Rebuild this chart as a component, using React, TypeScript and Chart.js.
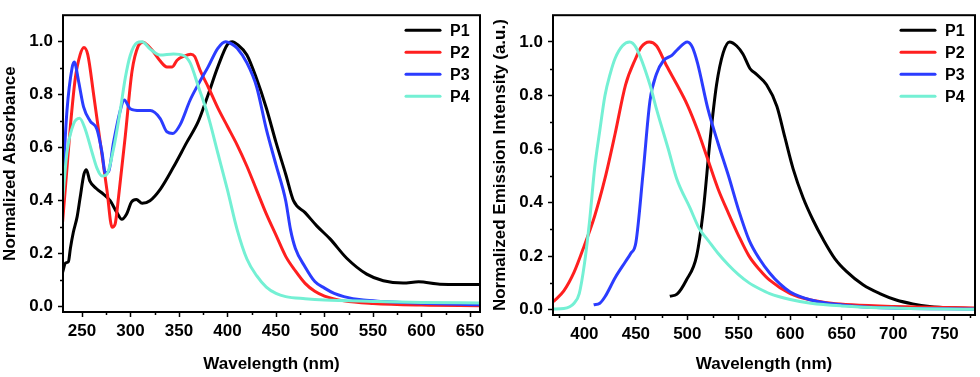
import React, { useEffect, useRef } from "react";
import { Chart, registerables } from "chart.js";

Chart.register(...registerables);

// ---------- data ----------
const seriesNames = ["P1", "P2", "P3", "P4"];
const seriesColors = ["#000000", "#ff1f1f", "#2b3cff", "#74f0d4"];

// Absorption (left panel)
const absP1X = [230, 233, 236, 238, 241, 245, 248, 252, 254.5, 258, 265, 272, 279, 286, 291, 296, 301, 306, 312, 320, 331, 344, 358, 370, 380, 390, 400, 405, 410, 420, 430, 440, 450, 460, 468, 480, 492, 505.7, 522.9, 543.5, 560.6, 581, 597, 619, 640, 660];
const absP1Y = [0.13, 0.165, 0.17, 0.22, 0.28, 0.34, 0.41, 0.5, 0.517, 0.475, 0.445, 0.425, 0.4, 0.355, 0.33, 0.35, 0.395, 0.405, 0.39, 0.4, 0.445, 0.525, 0.62, 0.7, 0.8, 0.905, 0.99, 1.0, 0.99, 0.95, 0.86, 0.75, 0.62, 0.5, 0.4, 0.355, 0.305, 0.256, 0.183, 0.123, 0.098, 0.089, 0.094, 0.085, 0.084, 0.084];

const absP2X = [230, 234, 238, 243, 248, 252, 256, 262, 268.8, 275.7, 281, 284, 287.7, 294.6, 301.5, 308, 313, 318, 324, 330, 337.5, 343, 348, 355, 362, 366, 372, 380, 390, 400, 410, 420, 430, 440, 450, 460, 470, 480, 490, 500, 520, 550, 600, 660];
const absP2Y = [0.32, 0.5, 0.68, 0.86, 0.95, 0.978, 0.95, 0.8, 0.62, 0.44, 0.3, 0.31, 0.415, 0.644, 0.887, 0.984, 0.998, 0.985, 0.96, 0.93, 0.905, 0.905, 0.93, 0.945, 0.953, 0.945, 0.89, 0.83, 0.75, 0.68, 0.61, 0.53, 0.44, 0.35, 0.27, 0.19, 0.135, 0.088, 0.058, 0.04, 0.022, 0.012, 0.006, 0.004];

const absP3X = [230, 234.5, 239.7, 242, 246.5, 251.6, 258.5, 265.4, 270.6, 274, 277.4, 282.5, 289.4, 293.5, 299.7, 310, 320.3, 330.6, 337.5, 343.7, 351.2, 361.5, 370, 380, 390, 398, 405, 410, 420, 430, 440, 450, 460, 465, 470, 480, 490, 500, 510, 520, 540, 560, 600, 660];
const absP3Y = [0.46, 0.74, 0.9, 0.923, 0.85, 0.754, 0.7, 0.67, 0.583, 0.505, 0.51, 0.62, 0.74, 0.78, 0.747, 0.74, 0.74, 0.71, 0.66, 0.654, 0.687, 0.78, 0.84, 0.905, 0.975, 1.0, 0.99, 0.975, 0.92, 0.83, 0.67, 0.535, 0.4, 0.29, 0.22, 0.15, 0.095, 0.07, 0.05, 0.038, 0.025, 0.02, 0.013, 0.007];

const absP4X = [230, 234.5, 241.3, 247.5, 253.4, 260.3, 265.4, 270.6, 275.7, 282.5, 289.4, 294.6, 299.7, 306.6, 311.8, 320.3, 330.6, 344.3, 354.6, 361.5, 370, 380, 390, 400, 410, 420, 430, 440, 450, 460, 480, 500, 550, 600, 660];
const absP4Y = [0.4, 0.583, 0.69, 0.711, 0.669, 0.583, 0.523, 0.493, 0.5, 0.596, 0.74, 0.863, 0.948, 0.996, 1.0, 0.972, 0.95, 0.954, 0.948, 0.92, 0.83, 0.72, 0.58, 0.44, 0.29, 0.18, 0.117, 0.074, 0.05, 0.038, 0.03, 0.025, 0.02, 0.016, 0.014];

// Emission (right panel)
const emP1X = [483, 490, 499, 509, 515.5, 522, 528.4, 534.9, 541, 548, 554, 561, 567, 577, 587, 594.7, 602.8, 612.5, 622.2, 631.9, 643.3, 654.6, 670.7, 687, 703, 719, 735.4, 760, 780];
const emP1Y = [0.05, 0.058, 0.11, 0.2, 0.37, 0.63, 0.84, 0.96, 1.0, 0.985, 0.955, 0.9, 0.88, 0.84, 0.76, 0.645, 0.526, 0.418, 0.334, 0.263, 0.191, 0.143, 0.093, 0.06, 0.036, 0.0215, 0.012, 0.006, 0.004];

const emP2X = [370, 380, 390, 400, 410, 420, 430, 440, 450, 455, 463, 470, 480, 490, 500, 510, 520, 530, 540, 550, 560, 570, 580, 600, 620, 640, 660, 700, 750, 780];
const emP2Y = [0.03, 0.07, 0.14, 0.24, 0.35, 0.49, 0.66, 0.84, 0.94, 0.98, 1.0, 0.986, 0.91, 0.84, 0.765, 0.67, 0.56, 0.45, 0.36, 0.275, 0.2, 0.15, 0.11, 0.06, 0.036, 0.024, 0.018, 0.012, 0.008, 0.006];

const emP3X = [409, 415, 420, 430, 440, 445, 450, 457, 463.7, 470, 476.7, 485, 490, 500, 505, 510, 520, 530, 540, 550, 560, 570, 580, 590, 600, 620, 640, 660, 700, 750, 780];
const emP3Y = [0.018, 0.024, 0.048, 0.12, 0.18, 0.21, 0.25, 0.51, 0.78, 0.88, 0.93, 0.95, 0.97, 1.0, 0.98, 0.92, 0.75, 0.62, 0.5, 0.37, 0.26, 0.19, 0.137, 0.096, 0.066, 0.036, 0.022, 0.014, 0.006, 0.003, 0.002];

const emP4X = [370, 380, 390, 395, 400, 405, 410, 415, 420, 425, 430, 437, 444, 450, 463.7, 470, 481.5, 489.6, 502.6, 512, 520, 530, 540, 550, 560, 570, 580, 600, 620, 650, 700, 780];
const emP4Y = [0.002, 0.004, 0.024, 0.06, 0.17, 0.33, 0.53, 0.67, 0.8, 0.88, 0.94, 0.986, 1.0, 0.98, 0.84, 0.75, 0.6, 0.49, 0.38, 0.3, 0.26, 0.21, 0.167, 0.13, 0.1, 0.078, 0.06, 0.038, 0.024, 0.014, 0.006, 0.001];

// Axis ticks
const absXTicks = [250, 300, 350, 400, 450, 500, 550, 600, 650];
const emXTicks = [400, 450, 500, 550, 600, 650, 700, 750];
const yTicks = [0, 0.2, 0.4, 0.6, 0.8, 1.0];

const FONT = "'Liberation Sans', Arial, sans-serif";

function zip(xs: number[], ys: number[]) {
  return xs.map((x, i) => ({ x, y: ys[i] }));
}

function buildConfig(opts: {
  xs: number[][];
  ys: number[][];
  xMin: number;
  xMax: number;
  xTicks: number[];
  yTitle: string;
  rightPad: number;
  xAxisHeight: number;
}) {
  const datasets = opts.xs.map((xArr, i) => ({
    label: seriesNames[i],
    data: zip(xArr, opts.ys[i]),
    borderColor: seriesColors[i],
    backgroundColor: seriesColors[i],
    borderWidth: 3,
    pointRadius: 0,
    fill: false,
    cubicInterpolationMode: "monotone" as const,
    order: 4 - i,
  }));

  const decor = {
    id: "decor",
    afterDatasetsDraw(chart: any) {
      const { ctx, chartArea } = chart;
      const { left, right, top, bottom } = chartArea;
      ctx.save();
      // frame
      ctx.strokeStyle = "#000";
      ctx.lineWidth = 2;
      ctx.strokeRect(left, top, right - left, bottom - top);
      // minor ticks
      const xs = chart.scales.x;
      const ys = chart.scales.y;
      ctx.lineWidth = 1.5;
      ctx.beginPath();
      for (let v = Math.ceil(opts.xMin / 25) * 25; v <= opts.xMax; v += 25) {
        if (v % 50 === 0) continue;
        const px = Math.round(xs.getPixelForValue(v)) + 0.5;
        ctx.moveTo(px, bottom);
        ctx.lineTo(px, bottom + 3);
      }
      for (let k = 1; k <= 9; k += 2) {
        const py = Math.round(ys.getPixelForValue(k / 10)) + 0.5;
        ctx.moveTo(left, py);
        ctx.lineTo(left - 3, py);
      }
      ctx.stroke();
      // legend
      const rowsY = [15, 37, 59, 81];
      ctx.font = `bold 16px ${FONT}`;
      ctx.textBaseline = "middle";
      ctx.textAlign = "left";
      seriesNames.forEach((name, i) => {
        const y = top + rowsY[i];
        ctx.strokeStyle = seriesColors[i];
        ctx.lineWidth = 3;
        ctx.lineCap = "round";
        ctx.beginPath();
        ctx.moveTo(right - 74, y);
        ctx.lineTo(right - 40, y);
        ctx.stroke();
        ctx.fillStyle = "#000";
        ctx.fillText(name, right - 30, y + 1);
      });
      ctx.restore();
    },
  };

  return {
    type: "line" as const,
    data: { datasets },
    plugins: [decor],
    options: {
      animation: false as const,
      responsive: false,
      devicePixelRatio: 1,
      layout: { padding: { top: 4, right: opts.rightPad, left: 0, bottom: 0 } },
      plugins: { legend: { display: false }, tooltip: { enabled: false } },
      scales: {
        x: {
          type: "linear" as const,
          min: opts.xMin,
          max: opts.xMax,
          afterBuildTicks: (s: any) => {
            s.ticks = opts.xTicks.map((v) => ({ value: v }));
          },
          afterFit: (s: any) => {
            s.height = opts.xAxisHeight;
          },
          ticks: {
            color: "#000",
            font: { family: FONT, size: 17, weight: "bold" as const },
            padding: 4,
            maxRotation: 0,
            autoSkip: false,
          },
          grid: {
            display: true,
            drawOnChartArea: false,
            drawTicks: true,
            tickLength: 5,
            tickWidth: 1.5,
            tickColor: "#000",
          },
          border: { display: false },
          title: {
            display: true,
            text: "Wavelength (nm)",
            color: "#000",
            font: { family: FONT, size: 17, weight: "bold" as const },
            padding: { top: 0, bottom: 2 },
          },
        },
        y: {
          type: "linear" as const,
          min: -0.02,
          max: 1.1,
          afterBuildTicks: (s: any) => {
            s.ticks = yTicks.map((v) => ({ value: v }));
          },
          afterFit: (s: any) => {
            s.width = 63;
          },
          ticks: {
            color: "#000",
            font: { family: FONT, size: 17, weight: "bold" as const },
            padding: 5,
            callback: (v: any) => Number(v).toFixed(1),
          },
          grid: {
            display: true,
            drawOnChartArea: false,
            drawTicks: true,
            tickLength: 5,
            tickWidth: 1.5,
            tickColor: "#000",
          },
          border: { display: false },
          title: {
            display: true,
            text: opts.yTitle,
            color: "#000",
            font: { family: FONT, size: 17, weight: "bold" as const },
            padding: { top: 0, bottom: 0 },
          },
        },
      },
    },
  };
}

function Panel(props: { config: any; left: number }) {
  const ref = useRef<HTMLCanvasElement | null>(null);
  useEffect(() => {
    if (!ref.current) return;
    const chart = new Chart(ref.current, props.config);
    return () => chart.destroy();
  }, []);
  return (
    <div style={{ position: "absolute", left: props.left, top: 0, width: 490, height: 377 }}>
      <canvas ref={ref} width={490} height={377} style={{ display: "block" }} />
    </div>
  );
}

export default function App() {
  const absConfig = buildConfig({
    xs: [absP1X, absP2X, absP3X, absP4X],
    ys: [absP1Y, absP2Y, absP3Y, absP4Y],
    xMin: 230.4,
    xMax: 660.3,
    xTicks: absXTicks,
    yTitle: "Normalized Absorbance",
    rightPad: 10,
    xAxisHeight: 65,
  });
  const emConfig = buildConfig({
    xs: [emP1X, emP2X, emP3X, emP4X],
    ys: [emP1Y, emP2Y, emP3Y, emP4Y],
    xMin: 369.5,
    xMax: 779.5,
    xTicks: emXTicks,
    yTitle: "Normalized Emission Intensity (a.u.)",
    rightPad: 5,
    xAxisHeight: 62,
  });
  return (
    <div style={{ position: "fixed", left: 0, top: 0, width: 980, height: 377, background: "#fff" }}>
      <Panel config={absConfig} left={0} />
      <Panel config={emConfig} left={490} />
    </div>
  );
}
